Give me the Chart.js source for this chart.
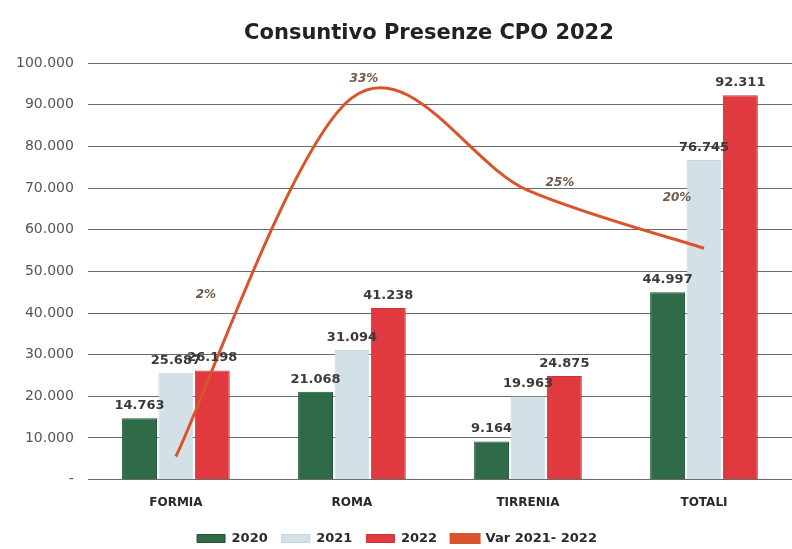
<!DOCTYPE html>
<html>
<head>
<meta charset="utf-8">
<title>Consuntivo Presenze CPO 2022</title>
<script src="https://cdn.jsdelivr.net/npm/chart.js@4"></script>
<style>
  html, body { margin: 0; padding: 0; background: #fff; overflow: hidden; }
  #wrap { width: 792px; height: 555px; }
</style>
</head>
<body>
<div id="wrap"><canvas id="chart"></canvas></div>
<script>
// dati
var categorie = ['FORMIA', 'ROMA', 'TIRRENIA', 'TOTALI'];
var presenze2020 = [14763, 21068, 9164, 44997];
var presenze2021 = [25687, 31094, 19963, 76745];
var presenze2022 = [26198, 41238, 24875, 92311];
var variazione = [0.02, 0.33, 0.25, 0.20]; // Var 2021-2022
var tickMax = 100000;
var tickStep = 10000;

// offset delle etichette % (spostate a mano come nell'originale)
var offsetPercent = [[30, -162], [12, -19], [32, -8], [-27, -50]];

Chart.defaults.font.family = "'DejaVu Sans', sans-serif";

function formatIt(v) {
    return String(v).replace(/\B(?=(\d{3})+(?!\d))/g, '.');
}

// linea smussata "stile Excel" (catmull-rom, 1/6 tra i vicini)
var excelSmooth = {
    id: 'excelSmooth',
    beforeDatasetDraw: function(chart, args) {
        if (chart.data.datasets[args.index].type !== 'line') return;
        args.meta.dataset.updateControlPoints(chart.chartArea, 'x');
        var pts = args.meta.data;
        for (var i = 0; i < pts.length; i++) {
            var p = pts[i];
            var prev = pts[i - 1] || p;
            var next = pts[i + 1] || p;
            var dx = (next.x - prev.x) / 6;
            var dy = (next.y - prev.y) / 6;
            p.cp1x = p.x - dx;
            p.cp1y = p.y - dy;
            p.cp2x = p.x + dx;
            p.cp2y = p.y + dy;
        }
    }
};

// etichette valore sopra le barre e percentuali sulla linea
var dataLabels = {
    id: 'dataLabels',
    afterDatasetsDraw: function(chart) {
        var ctx = chart.ctx;
        chart.data.datasets.forEach(function(ds, di) {
            var meta = chart.getDatasetMeta(di);
            ctx.save();
            if (ds.type === 'line') {
                ctx.font = 'italic bold 12px "DejaVu Sans"';
                ctx.fillStyle = '#6e5a48';
                ctx.textAlign = 'center';
                ctx.textBaseline = 'middle';
                meta.data.forEach(function(el, i) {
                    var o = offsetPercent[i];
                    ctx.fillText(Math.round(ds.data[i] * 100) + '%', el.x + o[0], el.y + o[1]);
                });
            } else {
                ctx.font = 'bold 13px "DejaVu Sans"';
                ctx.fillStyle = '#3a3a3a';
                ctx.textAlign = 'center';
                ctx.textBaseline = 'bottom';
                meta.data.forEach(function(el, i) {
                    ctx.fillText(formatIt(ds.data[i]), el.x, el.y - 6);
                });
            }
            ctx.restore();
        });
    }
};

var ctx = document.getElementById('chart').getContext('2d');
var chart = new Chart(ctx, {
    data: {
        labels: categorie,
        datasets: [
            {
                type: 'bar',
                label: '2020',
                data: presenze2020,
                backgroundColor: '#2f6b47',
                borderColor: '#24523a',
                borderWidth: 1,
                order: 1,
                yAxisID: 'y',
            },
            {
                type: 'bar',
                label: '2021',
                data: presenze2021,
                backgroundColor: '#d3e0e8',
                borderColor: '#c4d3dd',
                borderWidth: 1,
                order: 2,
                yAxisID: 'y',
            },
            {
                type: 'bar',
                label: '2022',
                data: presenze2022,
                backgroundColor: '#e03a40',
                borderColor: '#c93237',
                borderWidth: 1,
                order: 3,
                yAxisID: 'y',
            },
            {
                type: 'line',
                label: 'Var 2021- 2022',
                data: variazione,
                borderColor: '#d9542b',
                backgroundColor: '#d9542b',
                borderWidth: 3,
                pointRadius: 0,
                tension: 0.4,
                order: 0,
                yAxisID: 'y1',
            },
        ],
    },
    options: {
        responsive: true,
        maintainAspectRatio: false,
        animation: false,
        layout: {
            padding: { left: 2, right: 0, top: 0, bottom: 0 },
        },
        datasets: {
            bar: {
                categoryPercentage: 0.62,
                barPercentage: 0.96,
            },
        },
        scales: {
            x: {
                grid: { display: false },
                border: { display: false },
                ticks: {
                    color: '#2a2a2a',
                    font: { size: 12, weight: 'bold' },
                    padding: 8,
                },
            },
            y: {
                min: 0,
                max: tickMax,
                grid: { color: '#6a6a6a', lineWidth: 1, drawTicks: false },
                border: { display: false },
                ticks: {
                    stepSize: tickStep,
                    color: '#555',
                    font: { size: 14 },
                    padding: 14,
                    callback: function(value) {
                        return value === 0 ? '-' : formatIt(value);
                    },
                },
            },
            y1: {
                display: false,
                min: 0,
                max: 0.36,
            },
        },
        plugins: {
            title: {
                display: true,
                text: 'Consuntivo Presenze CPO 2022   ',
                fullSize: false,
                color: '#222',
                font: { size: 21, weight: 'bold' },
                padding: { top: 21, bottom: 17 },
            },
            legend: {
                position: 'bottom',
                labels: {
                    boxWidth: 28,
                    boxHeight: 8,
                    color: '#2a2a2a',
                    font: { size: 13, weight: 'bold' },
                    padding: 14,
                    sort: function(a, b) { return a.datasetIndex - b.datasetIndex; },
                },
            },
            tooltip: { enabled: false },
        },
    },
    plugins: [excelSmooth, dataLabels],
});
</script>
</body>
</html>
